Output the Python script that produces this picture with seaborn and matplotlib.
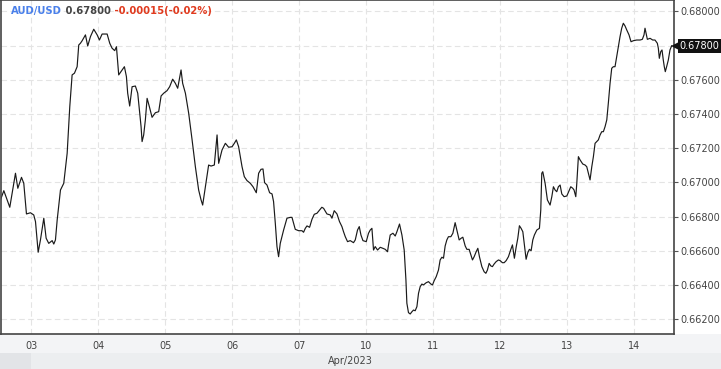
import matplotlib
matplotlib.use("Agg")
import matplotlib.pyplot as plt
import matplotlib.transforms as mtransforms
from matplotlib.patches import Rectangle
import seaborn as sns
import pandas as pd

# ---- data (trading-day position, 0 = Apr 03 00:00) ----
day_pos = [
    -0.463, -0.413, -0.324, -0.239, -0.204, -0.149, -0.115, -0.075, -0.015, 0.034,
    0.060, 0.100, 0.134, 0.184, 0.219, 0.258, 0.309, 0.333, 0.358, 0.384,
    0.433, 0.482, 0.533, 0.572, 0.607, 0.642, 0.682, 0.706, 0.731, 0.757,
    0.806, 0.840, 0.881, 0.930, 0.981, 1.015, 1.055, 1.130, 1.169, 1.204,
    1.243, 1.269, 1.303, 1.388, 1.418, 1.437, 1.467, 1.503, 1.552, 1.587,
    1.616, 1.637, 1.652, 1.676, 1.701, 1.727, 1.761, 1.801, 1.851, 1.900,
    1.936, 1.975, 2.025, 2.064, 2.109, 2.149, 2.184, 2.234, 2.258, 2.299,
    2.348, 2.399, 2.448, 2.497, 2.533, 2.557, 2.597, 2.646, 2.682, 2.731,
    2.772, 2.796, 2.846, 2.896, 2.945, 2.996, 3.030, 3.060, 3.094, 3.145,
    3.179, 3.219, 3.269, 3.309, 3.358, 3.393, 3.428, 3.458, 3.482, 3.518,
    3.557, 3.593, 3.616, 3.642, 3.667, 3.691, 3.716, 3.766, 3.816, 3.866,
    3.891, 3.940, 3.990, 4.040, 4.064, 4.090, 4.115, 4.154, 4.190, 4.224,
    4.264, 4.303, 4.337, 4.363, 4.413, 4.463, 4.488, 4.522, 4.563, 4.601,
    4.637, 4.661, 4.687, 4.721, 4.761, 4.810, 4.836, 4.870, 4.896, 4.921,
    4.951, 5.000, 5.034, 5.060, 5.085, 5.109, 5.134, 5.169, 5.209, 5.249,
    5.284, 5.318, 5.333, 5.358, 5.399, 5.433, 5.458, 5.497, 5.533, 5.567,
    5.593, 5.607, 5.631, 5.657, 5.682, 5.706, 5.731, 5.757, 5.781, 5.806,
    5.831, 5.855, 5.896, 5.930, 5.966, 5.990, 6.015, 6.045, 6.079, 6.104,
    6.130, 6.154, 6.179, 6.204, 6.228, 6.264, 6.294, 6.328, 6.354, 6.388,
    6.418, 6.443, 6.478, 6.503, 6.537, 6.563, 6.587, 6.612, 6.642, 6.667,
    6.691, 6.727, 6.761, 6.787, 6.810, 6.836, 6.861, 6.885, 6.910, 6.940,
    6.975, 7.000, 7.034, 7.060, 7.090, 7.124, 7.160, 7.184, 7.213, 7.239,
    7.264, 7.288, 7.313, 7.339, 7.363, 7.388, 7.413, 7.437, 7.463, 7.488,
    7.512, 7.548, 7.587, 7.607, 7.622, 7.637, 7.672, 7.706, 7.746, 7.772,
    7.796, 7.821, 7.846, 7.870, 7.896, 7.921, 7.955, 7.996, 8.034, 8.055,
    8.085, 8.104, 8.130, 8.145, 8.169, 8.194, 8.234, 8.269, 8.294, 8.318,
    8.343, 8.369, 8.393, 8.418, 8.443, 8.467, 8.493, 8.518, 8.542, 8.567,
    8.593, 8.616, 8.642, 8.667, 8.691, 8.716, 8.742, 8.766, 8.791, 8.816,
    8.840, 8.866, 8.891, 8.925, 8.955, 8.990, 9.040, 9.090, 9.124, 9.149,
    9.164, 9.179, 9.199, 9.239, 9.279, 9.313, 9.348, 9.363, 9.378, 9.399,
    9.418, 9.437, 9.452, 9.467, 9.487, 9.512, 9.537, 9.563,
]

price = [
    0.66898, 0.66952, 0.66855, 0.67054, 0.66966, 0.67030, 0.66995, 0.66816, 0.66823, 0.66810,
    0.66771, 0.66592, 0.66664, 0.66791, 0.66674, 0.66644, 0.66660, 0.66640, 0.66664, 0.66781,
    0.66956, 0.66995, 0.67171, 0.67443, 0.67629, 0.67639, 0.67677, 0.67804, 0.67814, 0.67829,
    0.67863, 0.67798, 0.67853, 0.67896, 0.67863, 0.67833, 0.67868, 0.67868, 0.67814, 0.67785,
    0.67771, 0.67794, 0.67629, 0.67677, 0.67619, 0.67522, 0.67447, 0.67560, 0.67564, 0.67522,
    0.67405, 0.67326, 0.67239, 0.67278, 0.67366, 0.67492, 0.67443, 0.67381, 0.67408, 0.67414,
    0.67506, 0.67522, 0.67537, 0.67560, 0.67604, 0.67580, 0.67551, 0.67658, 0.67580, 0.67522,
    0.67405, 0.67249, 0.67092, 0.66956, 0.66898, 0.66868, 0.66975, 0.67102, 0.67096, 0.67102,
    0.67278, 0.67112, 0.67190, 0.67229, 0.67206, 0.67209, 0.67229, 0.67249, 0.67209, 0.67092,
    0.67034, 0.67011, 0.66995, 0.66975, 0.66940, 0.67054, 0.67077, 0.67079, 0.66999, 0.66985,
    0.66940, 0.66933, 0.66888, 0.66761, 0.66625, 0.66566, 0.66644, 0.66722, 0.66791, 0.66796,
    0.66796, 0.66726, 0.66718, 0.66718, 0.66709, 0.66732, 0.66746, 0.66738, 0.66785, 0.66814,
    0.66820, 0.66839, 0.66855, 0.66849, 0.66816, 0.66810, 0.66791, 0.66835, 0.66816, 0.66771,
    0.66742, 0.66712, 0.66683, 0.66654, 0.66660, 0.66648, 0.66664, 0.66722, 0.66742, 0.66693,
    0.66660, 0.66654, 0.66703, 0.66722, 0.66732, 0.66605, 0.66625, 0.66605, 0.66621, 0.66615,
    0.66609, 0.66595, 0.66635, 0.66693, 0.66703, 0.66687, 0.66712, 0.66757, 0.66693, 0.66605,
    0.66430, 0.66294, 0.66239, 0.66231, 0.66244, 0.66254, 0.66250, 0.66274, 0.66352, 0.66391,
    0.66406, 0.66401, 0.66414, 0.66420, 0.66406, 0.66401, 0.66426, 0.66449, 0.66488, 0.66547,
    0.66563, 0.66557, 0.66629, 0.66664, 0.66683, 0.66683, 0.66703, 0.66765, 0.66722, 0.66664,
    0.66674, 0.66680, 0.66629, 0.66609, 0.66609, 0.66576, 0.66547, 0.66566, 0.66595, 0.66615,
    0.66566, 0.66508, 0.66478, 0.66469, 0.66488, 0.66527, 0.66512, 0.66508, 0.66523, 0.66537,
    0.66547, 0.66543, 0.66531, 0.66531, 0.66543, 0.66566, 0.66609, 0.66635, 0.66557, 0.66621,
    0.66674, 0.66747, 0.66732, 0.66712, 0.66635, 0.66551, 0.66590, 0.66609, 0.66601, 0.66664,
    0.66693, 0.66722, 0.66732, 0.66839, 0.67054, 0.67063, 0.66995, 0.66898, 0.66868, 0.66917,
    0.66975, 0.66956, 0.66946, 0.66975, 0.66985, 0.66933, 0.66917, 0.66921, 0.66956, 0.66975,
    0.66966, 0.66956, 0.66917, 0.66995, 0.67151, 0.67132, 0.67108, 0.67102, 0.67092, 0.67054,
    0.67015, 0.67092, 0.67151, 0.67229, 0.67239, 0.67249, 0.67278, 0.67297, 0.67297, 0.67326,
    0.67366, 0.67463, 0.67580, 0.67668, 0.67677, 0.67677, 0.67736, 0.67794, 0.67853, 0.67902,
    0.67931, 0.67915, 0.67892, 0.67863, 0.67823, 0.67829, 0.67833, 0.67833, 0.67837, 0.67863,
    0.67902, 0.67873, 0.67837, 0.67843, 0.67833, 0.67833, 0.67814, 0.67785, 0.67726, 0.67765,
    0.67775, 0.67716, 0.67677, 0.67648, 0.67677, 0.67716, 0.67775, 0.67800,
]

day_ticks = [0, 1, 2, 3, 4, 5, 6, 7, 8, 9]
day_labels = ["03", "04", "05", "06", "07", "10", "11", "12", "13", "14"]
price_ticks = [0.662, 0.664, 0.666, 0.668, 0.670, 0.672, 0.674, 0.676, 0.678, 0.680]
month_label = "Apr/2023"
symbol = "AUD/USD"
last_price = 0.67800
change_text = "-0.00015(-0.02%)"

df = pd.DataFrame({"day": day_pos, "price": price})

sns.set_style("white")
plt.rcParams["font.family"] = ["DejaVu Sans"]

W, H = 721, 369
fig = plt.figure(figsize=(W / 100, H / 100), dpi=100)
fig.patch.set_facecolor("white")

# bottom bands (behind the axes)
fig.patches.append(Rectangle((0, 16 / H), 1, 19 / H, transform=fig.transFigure,
                             facecolor="#f3f4f6", edgecolor="none", zorder=-5))
fig.patches.append(Rectangle((0, 0), 1, 16 / H, transform=fig.transFigure,
                             facecolor="#eceef0", edgecolor="none", zorder=-5))
fig.patches.append(Rectangle((0, 0), 31 / W, 16 / H, transform=fig.transFigure,
                             facecolor="#e2e4e7", edgecolor="none", zorder=-4))
fig.text(350 / W, 8 / H, month_label, ha="center", va="center",
         fontsize=7, color="#444444")

ax = fig.add_axes([0.5 / W, 35 / H, 673.5 / W, 334 / H])
ax.set_zorder(1)
ax.set_facecolor("white")

sns.lineplot(data=df, x="day", y="price", ax=ax, color="#1a1a1a",
             linewidth=0.85, estimator=None, sort=False)

ax.set_xlim(-0.4627, 9.597)
ax.set_ylim(0.66114, 0.68067)
ax.set_xlabel("")
ax.set_ylabel("")

ax.set_xticks(day_ticks)
ax.set_xticklabels(day_labels)
ax.set_yticks(price_ticks)
ax.set_yticklabels([f"{v:.5f}" for v in price_ticks])
ax.yaxis.tick_right()

ax.tick_params(axis="x", direction="out", length=3, width=0.8, color="#bbbbbb",
               labelsize=7, labelcolor="#444444", pad=2)
ax.tick_params(axis="y", direction="out", length=3, width=0.8, color="#555555",
               labelsize=7, labelcolor="#444444", pad=1.5)

ax.grid(True, color="#e4e4e4", linestyle=(0, (5, 3)), linewidth=0.8)

for side, sp in ax.spines.items():
    sp.set_visible(True)
    sp.set_color("#444444")
    sp.set_linewidth(1.2)

# last price tag
trans = mtransforms.blended_transform_factory(ax.transAxes, ax.transData)
ax.text(1.0085, last_price, f"{last_price:.5f}", transform=trans, ha="left",
        va="center", fontsize=7, color="white", clip_on=False, zorder=5,
        bbox=dict(boxstyle="square,pad=0.2", facecolor="#111111", edgecolor="none"))
ax.plot([1.0045], [last_price], marker="<", markersize=8.5, color="#111111",
        transform=trans, clip_on=False, zorder=4, markeredgewidth=0)

# title line
t1 = fig.text(11 / W, 1 - 11 / H, symbol, ha="left", va="center", fontsize=7.2,
              fontweight="bold", color="#4a80ea", zorder=10)
t2 = ax.annotate(" " + f"{last_price:.5f}", xy=(1, 0), xycoords=t1, va="bottom",
                 ha="left", fontsize=7.2, fontweight="bold", color="#444444",
                 annotation_clip=False, zorder=10)
t3 = ax.annotate(" " + change_text, xy=(1, 0), xycoords=t2, va="bottom",
                 ha="left", fontsize=7.2, fontweight="bold", color="#e03a1e",
                 annotation_clip=False, zorder=10)

fig.savefig("out.png", dpi=100)
